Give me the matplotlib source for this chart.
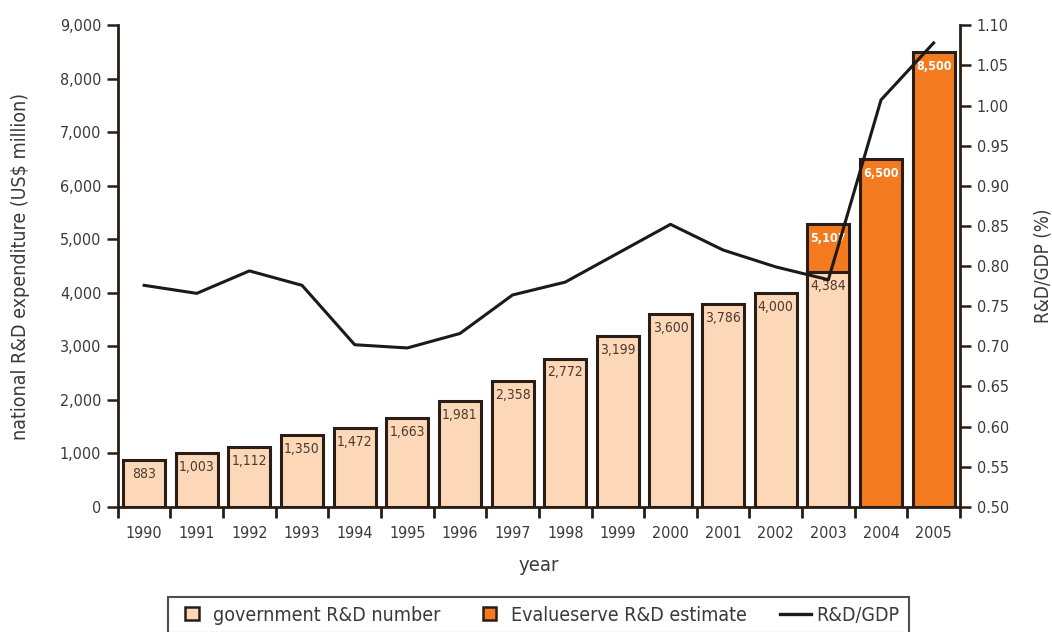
import numpy as np
import matplotlib
matplotlib.use('Agg')
import matplotlib.pyplot as plt
from matplotlib.patches import Patch, Rectangle
from matplotlib.lines import Line2D
from matplotlib.legend_handler import HandlerPatch

plt.rcParams['font.family'] = ['DejaVu Sans']
plt.rcParams['font.stretch'] = 'condensed'

# ---- data ----
years = [1990, 1991, 1992, 1993, 1994, 1995, 1996, 1997,
         1998, 1999, 2000, 2001, 2002, 2003, 2004, 2005]
gov_rd = [883, 1003, 1112, 1350, 1472, 1663, 1981, 2358,
          2772, 3199, 3600, 3786, 4000, 4384, None, None]
est_years = [2003, 2004, 2005]
est_rd = [5290, 6500, 8500]
est_labels = ['5,107', '6,500', '8,500']
rd_gdp = [0.776, 0.766, 0.794, 0.776, 0.702, 0.698, 0.716, 0.764,
          0.780, 0.816, 0.852, 0.820, 0.799, 0.783, 1.007, 1.078]

light = '#fdd8b8'
orange = '#f47a20'
edge = '#2a1d15'
txt = '#3a3a3a'


class SquareHandler(HandlerPatch):
    # small square centred in the handle box
    def create_artists(self, legend, orig_handle, xdescent, ydescent,
                       width, height, fontsize, trans):
        s = 0.68 * fontsize
        p = Rectangle((-xdescent + (width - s) / 2, -ydescent + (height - s) / 2), s, s,
                      facecolor=orig_handle.get_facecolor(),
                      edgecolor=orig_handle.get_edgecolor(),
                      linewidth=orig_handle.get_linewidth(), transform=trans)
        return [p]


fig = plt.figure(figsize=(10.52, 6.32), dpi=100)
ax = fig.add_axes([0.112, 0.198, 0.8005, 0.762])
x = np.arange(len(years))
w = 0.8

# estimate bars (2003 one sits behind the government bar)
ex = [years.index(y) for y in est_years]
ax.bar(ex, est_rd, width=w, color=orange, edgecolor=edge, linewidth=2.2, zorder=2)
gx = [i for i, v in enumerate(gov_rd) if v is not None]
gv = [gov_rd[i] for i in gx]
ax.bar(gx, gv, width=w, color=light, edgecolor=edge, linewidth=2.2, zorder=3)

for i, v in zip(gx, gv):
    ax.annotate(f'{v:,}', (i, v), xytext=(0, -5), textcoords='offset points',
                ha='center', va='top', fontsize=10, color='#4a3a30', zorder=6)
for i, v, s in zip(ex, est_rd, est_labels):
    ax.annotate(s, (i, v), xytext=(0, -6), textcoords='offset points',
                ha='center', va='top', fontsize=9, color='white',
                fontweight='bold', zorder=6)

ax.set_xlim(-0.5, len(years) - 0.5)
ax.set_ylim(0, 9000)
ax.set_yticks(np.arange(0, 9001, 1000))
ax.set_yticklabels([f'{v:,}' for v in range(0, 9001, 1000)])
ax.set_xticks(x)
ax.set_xticklabels([str(y) for y in years])
ax.set_xticks(np.arange(-0.5, len(years)), minor=True)
ax.tick_params(axis='x', which='major', length=0, pad=14, labelsize=11.5, labelcolor=txt)
ax.tick_params(axis='x', which='minor', length=8, width=2, color=edge, direction='out')
ax.tick_params(axis='y', length=8, width=1.8, color=edge, labelsize=11.5,
               labelcolor=txt, pad=4)
for s in ['top', 'right']:
    ax.spines[s].set_visible(False)
for s in ['left', 'bottom']:
    ax.spines[s].set_linewidth(2)
    ax.spines[s].set_color(edge)
ax.set_xlabel('year', fontsize=14.5, color=txt)
ax.xaxis.set_label_coords(0.5, -0.103)
ax.set_ylabel('national R&D expenditure (US$ million)', fontsize=14, color=txt)
ax.yaxis.set_label_coords(-0.104, 0.5)

ax2 = ax.twinx()
ax2.plot(x, rd_gdp, color='#1a1a1a', lw=2.2, zorder=5)
ax2.set_ylim(0.50, 1.10)
ax2.set_yticks(np.arange(0.50, 1.101, 0.05))
ax2.set_yticklabels([f'{v:.2f}' for v in np.arange(0.50, 1.101, 0.05)])
ax2.tick_params(axis='y', length=8, width=1.8, color=edge, labelsize=11.5,
                labelcolor=txt, pad=4)
for s in ['top', 'left', 'bottom']:
    ax2.spines[s].set_visible(False)
ax2.spines['right'].set_linewidth(2)
ax2.spines['right'].set_color(edge)
ax2.set_ylabel('R&D/GDP (%)', fontsize=13.5, color=txt)
ax2.yaxis.set_label_coords(1.087, 0.5)

handles = [Patch(facecolor=light, edgecolor=edge, linewidth=1.8, label='government R&D number'),
           Patch(facecolor=orange, edgecolor=edge, linewidth=1.8, label='Evalueserve R&D estimate'),
           Line2D([], [], color='#1a1a1a', lw=2.4, label='R&D/GDP')]
leg = fig.legend(handles=handles, loc='upper center', bbox_to_anchor=(0.5115, 0.0555),
                 ncol=3, fontsize=14, frameon=True, fancybox=False,
                 handler_map={Patch: SquareHandler()},
                 handlelength=1.6, handleheight=0.7, columnspacing=1.7,
                 handletextpad=0.3, borderpad=0.45, borderaxespad=0)
leg.get_frame().set_edgecolor('#222222')
leg.get_frame().set_linewidth(1.5)
for t in leg.get_texts():
    t.set_color(txt)

fig.savefig('out.png', dpi=100)
plt.close(fig)
print("saved: out.png")
